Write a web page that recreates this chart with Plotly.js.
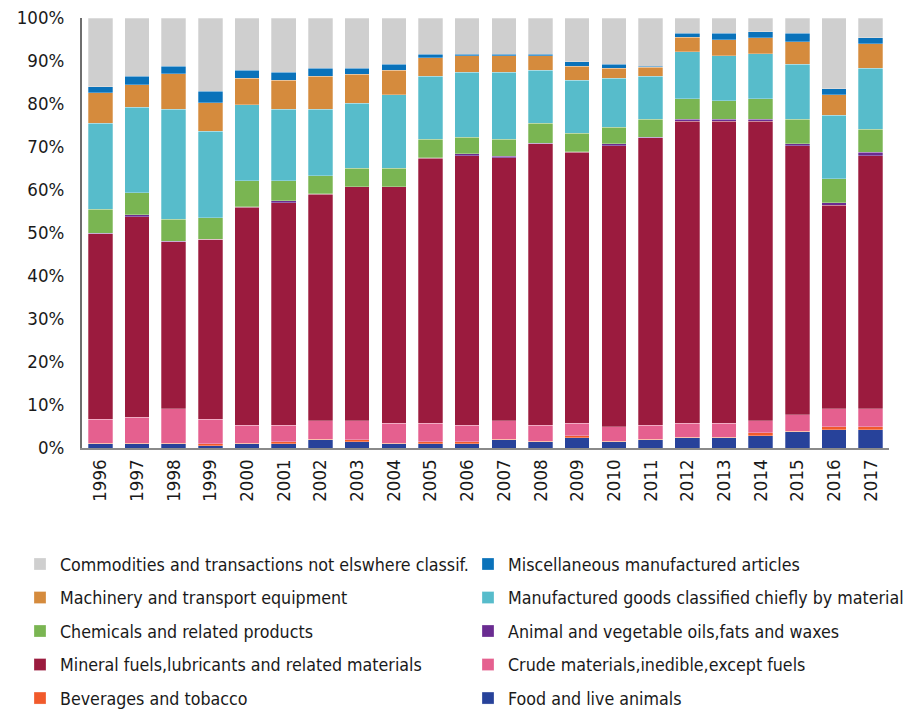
<!DOCTYPE html>
<html>
<head>
<meta charset="utf-8">
<script src="https://cdn.plot.ly/plotly-3.0.1.min.js"></script>
<style>html,body{margin:0;padding:0;background:#fff;}#chart{width:914px;height:711px;}</style>
</head>
<body>
<div id="chart"></div>
<script>
const years = ["1996","1997","1998","1999","2000","2001","2002","2003","2004","2005","2006","2007","2008","2009","2010","2011","2012","2013","2014","2015","2016","2017"];

const food        = [1.0,1.0,1.0,0.5,1.0,1.0,1.9,1.5,1.0,1.0,1.0,1.9,1.5,2.4,1.5,1.9,2.4,2.4,2.9,3.8,4.3,4.3];
const beverages   = [0.1,0.1,0.1,0.5,0.1,0.4,0.1,0.4,0.1,0.4,0.4,0.1,0.1,0.4,0.1,0.1,0.1,0.1,0.6,0.1,0.6,0.6];
const crude       = [5.6,6.1,8.0,5.7,4.2,3.9,4.3,4.4,4.7,4.4,3.9,4.3,3.7,3.0,3.3,3.3,3.3,3.3,2.8,3.8,4.2,4.2];
const mineral     = [43.1,46.6,38.9,41.8,50.7,51.7,52.7,54.4,54.9,61.6,62.7,61.2,65.5,63.0,65.4,66.9,70.2,70.2,69.7,62.6,47.4,58.9];
const oils        = [0.2,0.5,0.1,0.1,0.1,0.5,0.1,0.1,0.1,0.1,0.4,0.4,0.1,0.1,0.4,0.1,0.4,0.4,0.4,0.5,0.5,0.8];
const chemicals   = [5.5,5.1,5.1,5.0,6.1,4.7,4.2,4.3,4.3,4.3,3.9,3.9,4.6,4.3,3.9,4.1,4.8,4.4,4.8,5.6,5.6,5.3];
const manufGoods  = [20.0,19.9,25.6,20.1,17.6,16.6,15.5,15.1,17.1,14.6,15.1,15.6,12.3,12.3,11.4,10.0,11.0,10.4,10.5,12.9,14.8,14.2];
const machinery   = [7.1,5.2,8.2,6.6,6.2,6.7,7.6,6.7,5.7,4.3,3.8,3.8,3.4,3.3,2.3,2.2,3.3,3.8,3.7,5.2,4.8,5.7];
const miscArticles= [1.4,1.9,1.8,2.7,1.8,1.9,1.9,1.4,1.4,0.9,0.4,0.4,0.4,1.0,1.0,0.2,0.9,1.4,1.4,1.9,1.3,1.4];
const commodities = [16.0,13.6,11.2,17.0,12.2,12.6,11.7,11.7,10.7,8.4,8.4,8.4,8.4,10.2,10.7,11.2,3.6,3.6,3.2,3.6,16.5,4.6];

const seriesNames = [
  "Food and live animals",
  "Beverages and tobacco",
  "Crude materials,inedible,except fuels",
  "Mineral fuels,lubricants and related materials",
  "Animal and vegetable oils,fats and waxes",
  "Chemicals and related products",
  "Manufactured goods classified chiefly by material",
  "Machinery and transport equipment",
  "Miscellaneous manufactured articles",
  "Commodities and transactions not elswhere classif."
];
const seriesValues = [food, beverages, crude, mineral, oils, chemicals, manufGoods, machinery, miscArticles, commodities];
const colors = ["#27429A","#F15A2B","#E5608F","#9B1B3E","#6A2C91","#7AB552","#57BCCB","#D58B3D","#0A72BA","#CFCFCF"];
const legendOf = ["legend2","legend","legend2","legend","legend2","legend","legend2","legend","legend2","legend"];

const FONT = "DejaVu Sans Condensed, Liberation Sans Narrow, sans-serif";

const traces = seriesNames.map((n, i) => ({
  type: "bar",
  name: n,
  x: years,
  y: seriesValues[i],
  marker: {color: colors[i], line: {color: "rgba(255,255,255,0.35)", width: 0.8}},
  legend: legendOf[i],
  legendgroup: "g" + i,
  legendrank: 1000 - i,
  hoverinfo: "x+y+name"
}));

const legendCommon = {
  orientation: "v",
  traceorder: "grouped",
  tracegroupgap: 7.5,
  font: {family: FONT, size: 17.7, color: "#1a1a1a"},
  bgcolor: "rgba(0,0,0,0)",
  borderwidth: 0,
  itemwidth: 30,
  xanchor: "left", yanchor: "top"
};

const layout = {
  width: 914, height: 711,
  margin: {l: 82, r: 25, t: 18, b: 263, autoexpand: false},
  barmode: "stack",
  bargap: 0.33,
  paper_bgcolor: "#fff",
  plot_bgcolor: "#fff",
  font: {family: FONT, size: 18.5, color: "#1a1a1a"},
  showlegend: true,
  xaxis: {
    type: "category",
    tickangle: -90,
    showgrid: false,
    showline: true,
    linecolor: "#8a8a8a",
    linewidth: 2,
    ticks: "",
    ticklabelstandoff: 2,
    tickfont: {family: FONT, size: 18.5, color: "#1a1a1a"},
    zeroline: false,
    automargin: false
  },
  yaxis: {
    range: [0, 100],
    dtick: 10,
    tick0: 0,
    ticksuffix: "%",
    showgrid: false,
    showline: true,
    linecolor: "#6e6e6e",
    linewidth: 2,
    ticks: "",
    ticklabelstandoff: 12,
    tickfont: {family: FONT, size: 18.5, color: "#1a1a1a"},
    zeroline: false,
    automargin: false
  },
  legend: Object.assign({}, legendCommon, {x: (20 - 82) / 807, y: (448 - 546) / 430}),
  legend2: Object.assign({}, legendCommon, {x: (468 - 82) / 807, y: (448 - 546) / 430})
};

Plotly.newPlot("chart", traces, layout, {displayModeBar: false, staticPlot: true});
</script>
</body>
</html>
